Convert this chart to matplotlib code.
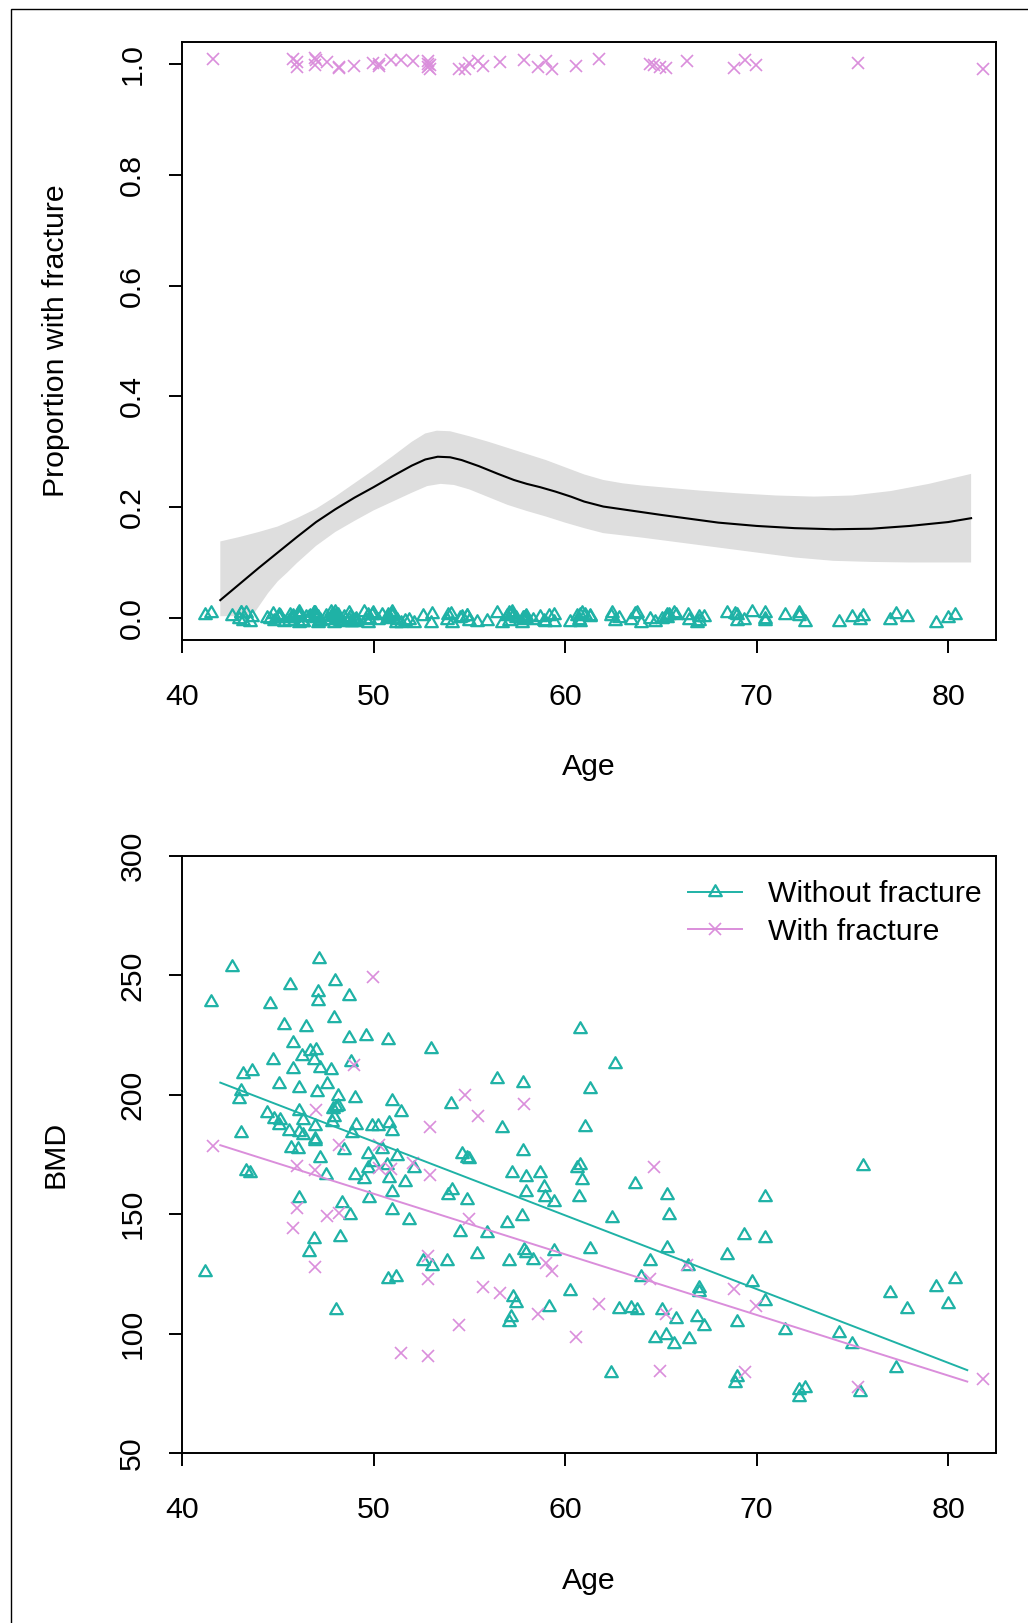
import matplotlib
matplotlib.use("Agg")
from matplotlib import pyplot as plt
from matplotlib.lines import Line2D
from matplotlib.patches import Rectangle
from matplotlib.path import Path

plt.rcParams['font.family'] = ['Liberation Sans', 'DejaVu Sans']

# women without fracture: age, BMD
age_without = [42.61, 47.17, 41.50, 44.59, 45.62, 47.08, 47.08, 47.98, 48.73, 47.93,
               45.34, 46.45, 48.70, 49.60, 50.76, 52.99, 45.81, 44.77, 46.28, 46.66,
               46.99, 46.90, 48.84, 45.77, 47.18, 47.77, 43.18, 43.65, 45.08, 46.12,
               47.06, 47.55, 43.08, 42.96, 48.14, 49.01, 50.97, 51.46, 54.03, 44.44,
               44.78, 45.11, 45.08, 46.09, 46.33, 47.86, 48.03, 48.17, 47.95, 47.83,
               46.96, 45.57, 46.12, 46.30, 46.94, 43.08, 49.08, 49.91, 50.21, 50.82,
               50.96, 48.90, 46.96, 45.69, 46.04, 47.20, 48.47, 49.69, 50.44, 51.22,
               49.98, 50.68, 49.72, 52.12, 54.61, 54.90, 54.99, 43.34, 43.57, 47.51,
               49.04, 49.48, 50.82, 51.65, 50.96, 49.77, 46.12, 48.35, 48.78, 50.96,
               51.86, 53.89, 54.09, 54.90, 54.50, 46.87, 48.26, 46.61, 55.42, 52.56,
               53.04, 53.86, 50.76, 51.16, 41.22, 48.05,
               60.80, 62.59, 56.45, 57.81, 61.32, 56.73, 61.02, 57.79, 57.22, 57.95,
               58.69, 60.76, 60.62, 60.90, 58.89, 57.98, 58.97, 59.44, 60.75, 63.63,
               65.34, 65.42, 57.74, 56.97, 62.45, 55.93, 57.84, 57.98, 58.31, 57.06,
               59.41, 61.28, 65.34, 64.43, 63.96, 66.41, 66.97, 66.99, 68.45, 69.32,
               69.75, 60.28, 57.29, 57.42, 57.18, 57.09, 59.15, 62.83, 63.46, 63.75,
               65.06, 65.81, 66.88, 67.28, 68.97, 64.68, 65.28, 65.68, 66.47, 62.42,
               68.97, 68.88,
               75.58, 70.43, 70.43, 70.42, 71.49, 74.31, 75.00, 77.28, 76.97, 77.86,
               79.39, 80.38, 79.98, 72.22, 72.54, 72.24, 75.42]
bmd_without = [253.5, 256.8, 238.7, 238.1, 245.8, 243.0, 239.3, 247.6, 241.2, 232.3,
               229.4, 228.4, 223.9, 224.5, 222.8, 219.3, 221.8, 214.7, 216.3, 218.4,
               218.9, 214.4, 213.7, 210.8, 211.2, 210.2, 208.9, 210.0, 204.4, 202.7,
               201.3, 204.7, 201.6, 198.4, 199.4, 198.8, 197.4, 193.0, 196.0, 192.4,
               189.9, 189.6, 187.2, 193.2, 189.6, 194.2, 194.9, 195.5, 190.5, 188.6,
               186.8, 184.9, 184.5, 183.1, 181.7, 184.0, 187.5, 187.0, 187.0, 188.2,
               184.9, 183.8, 180.5, 177.9, 177.2, 173.6, 176.8, 175.1, 177.5, 174.5,
               171.9, 170.8, 169.4, 169.4, 175.4, 173.7, 173.2, 167.9, 167.3, 166.3,
               166.3, 164.9, 165.2, 163.5, 159.4, 156.8, 156.8, 154.5, 149.6, 151.7,
               147.5, 158.0, 160.0, 155.9, 142.6, 139.8, 140.5, 134.2, 133.3, 130.3,
               128.4, 130.3, 122.8, 123.8, 125.9, 109.8,
               227.7, 212.8, 206.8, 204.9, 202.3, 186.3, 186.5, 176.5, 167.4, 165.6,
               167.4, 170.8, 169.4, 164.5, 161.4, 159.2, 157.2, 155.2, 157.2, 162.8,
               158.1, 149.7, 149.2, 146.5, 148.3, 142.3, 134.9, 133.8, 131.0, 130.3,
               134.5, 135.6, 135.9, 130.3, 123.5, 128.3, 118.9, 117.5, 132.8, 141.2,
               121.7, 117.9, 115.4, 112.9, 106.8, 104.7, 111.2, 110.1, 110.9, 109.8,
               109.8, 106.1, 106.8, 103.1, 104.7, 98.0, 99.4, 95.6, 97.6, 83.6,
               81.7, 79.4,
               170.1, 157.2, 140.1, 113.7, 101.5, 100.3, 95.5, 85.7, 116.8, 110.3,
               119.6, 122.8, 112.2, 76.4, 77.3, 73.6, 75.4]

# women with fracture: age, BMD
age_with = [49.97, 48.99, 46.99, 54.80, 55.48, 52.94, 41.60, 48.21, 45.98, 46.96,
            50.28, 52.05, 52.94, 50.30, 50.90, 45.98, 47.58, 48.21, 45.77, 46.96,
            52.82, 52.82, 54.96, 54.47, 51.43, 52.85, 55.69, 57.84, 64.66, 59.02,
            59.32, 56.62, 58.57, 61.75, 60.59, 64.45, 65.28, 66.36, 68.80, 69.98,
            64.94, 69.41, 75.27, 81.84]
bmd_with = [249.3, 212.3, 193.5, 199.9, 191.0, 186.5, 178.5, 178.9, 170.0, 168.5,
            179.0, 171.5, 166.5, 169.5, 169.0, 152.8, 149.2, 150.3, 144.3, 127.7,
            132.6, 122.8, 147.9, 103.6, 92.0, 90.6, 119.6, 196.3, 169.8, 129.6,
            126.3, 116.8, 108.0, 112.6, 98.4, 122.8, 108.4, 128.7, 118.6, 111.6,
            84.4, 84.0, 77.5, 80.9]

# jittered 0/1 outcome shown in the top panel
fx_without = [0.003, -0.005, 0.008, -0.002, 0.006, -0.009, 0.001, 0.010, -0.004, 0.004,
              -0.007, 0.002, 0.009, -0.003, 0.005, -0.010, 0.000, 0.007, -0.006, 0.003,
              -0.001, 0.008, -0.008, 0.004, -0.003, 0.011, -0.005, 0.002, 0.006, -0.009,
              0.001, -0.004, 0.009, -0.002, 0.005, -0.007, 0.003, -0.010, 0.007, 0.000,
              -0.006, 0.004, -0.001, 0.010, -0.008, 0.002, 0.006, -0.003, -0.009, 0.005,
              0.008, -0.005, 0.001, -0.007, 0.003, 0.009, -0.002, 0.006, -0.004, 0.000,
              0.011, -0.008, 0.004, -0.001, 0.007, -0.006, 0.002, -0.010, 0.005, -0.003,
              0.009, -0.002, 0.006, -0.009, 0.001, 0.004, -0.005, 0.008, -0.007, 0.003,
              -0.004, 0.010, 0.000, -0.006, 0.007, -0.002, 0.005, -0.008, 0.002, 0.009,
              -0.003, 0.006, -0.010, 0.004, -0.001, 0.008, -0.005, 0.001, -0.007, 0.003,
              0.007, -0.004, 0.002, -0.009, 0.006, 0.000,
              0.005, -0.006, 0.008, -0.001, 0.003, -0.009, 0.006, -0.004, 0.010, -0.002,
              0.001, -0.007, 0.004, 0.009, -0.005, 0.002, -0.008, 0.006, -0.003, 0.007,
              -0.001, 0.005, -0.010, 0.003, 0.008, -0.006, 0.000, 0.004, -0.004, 0.009,
              -0.007, 0.002, 0.006, -0.002, -0.009, 0.005, 0.001, -0.005, 0.008, -0.003,
              0.010, -0.008, 0.003, -0.001, 0.007, -0.006, 0.004, 0.000, -0.004, 0.009,
              -0.002, 0.006, -0.009, 0.002, 0.005, -0.007, 0.001, 0.008, -0.003, 0.004,
              -0.005, 0.007,
              0.003, -0.006, 0.009, -0.002, 0.005, -0.008, 0.001, 0.007, -0.004, 0.002,
              -0.009, 0.006, -0.001, 0.004, -0.007, 0.008, -0.003]
fx_with = [1.002, 0.996, 1.007, 0.992, 1.005, 0.999, 1.009, 0.994, 1.003, 1.011,
           0.997, 1.006, 0.991, 1.001, 1.008, 0.995, 1.004, 0.993, 1.010, 0.998,
           1.005, 0.994, 1.002, 0.991, 1.007, 1.000, 0.996, 1.008, 0.999, 1.006,
           0.992, 1.003, 0.995, 1.009, 0.997, 1.001, 0.993, 1.005, 0.993, 0.998,
           0.994, 1.008, 1.002, 0.992]

# smoothed proportion with fracture
curve_age = [42, 43, 44, 45, 46, 47, 48, 49, 50, 51, 52, 52.7, 53.35, 54, 54.6,
             55.5, 56.5, 57.33, 58, 58.7, 59.5, 60.3, 61, 62, 63, 64, 65, 66.5, 68,
             70, 72, 74, 76, 78, 80, 81.2]
curve_fit = [0.032, 0.061, 0.090, 0.118, 0.146, 0.173, 0.196, 0.217, 0.236, 0.256,
             0.275, 0.286, 0.291, 0.290, 0.285, 0.274, 0.260, 0.249, 0.242, 0.236,
             0.228, 0.219, 0.210, 0.201, 0.196, 0.191, 0.186, 0.179, 0.172, 0.166,
             0.162, 0.160, 0.161, 0.166, 0.173, 0.180]
# its confidence band
hi_age = [42, 43, 44, 45, 46, 47, 48, 49, 50, 51, 52, 52.7, 53.3, 54, 55, 56, 57, 58,
          59, 60, 61, 62, 63, 64, 65, 67, 69, 71, 73, 75, 77, 79, 81.2]
band_hi = [0.138, 0.146, 0.155, 0.165, 0.180, 0.197, 0.219, 0.243, 0.267, 0.292, 0.318,
           0.333, 0.338, 0.337, 0.328, 0.318, 0.307, 0.296, 0.285, 0.272, 0.259, 0.249,
           0.243, 0.239, 0.236, 0.230, 0.225, 0.221, 0.219, 0.221, 0.229, 0.242, 0.260]
lo_age = [42, 43, 43.8, 44.5, 45, 45.5, 46, 47, 48, 49, 50, 51, 52, 52.8, 53.5, 54.2,
          55, 56, 57, 58, 59, 60, 61, 62, 64, 66, 68, 70, 72, 74, 76, 78, 81.2]
band_lo = [0.003, 0.003, 0.010, 0.045, 0.066, 0.082, 0.099, 0.130, 0.155, 0.175, 0.194,
           0.210, 0.226, 0.238, 0.242, 0.240, 0.232, 0.218, 0.204, 0.193, 0.183, 0.172,
           0.162, 0.153, 0.145, 0.136, 0.127, 0.118, 0.109, 0.103, 0.101, 0.100, 0.100]

# regression lines of BMD on age
fit_age = [42, 81]
fit_without = [205.1, 84.7]
fit_with = [178.9, 79.9]

teal = '#1FB2A6'
pink = '#DA8EDB'
fs = 21.8
tri = Path([(0, 1), (-0.866, -0.5), (0.866, -0.5), (0, 1)],
           [Path.MOVETO, Path.LINETO, Path.LINETO, Path.CLOSEPOLY])
tri_ms, tri_mew = 10.5, 1.6
x_ms, x_mew = 8.2, 1.2

fig = plt.figure(figsize=(10.28, 16.23), dpi=100)
fig.patches.append(Rectangle((10.5 / 1028, -0.1), 1.2, 1.1 - 9.3 / 1623,
                             transform=fig.transFigure, fill=False, lw=1.0, ec='black'))

ax1 = fig.add_axes([182 / 1028, 1 - 640 / 1623, 814 / 1028, 598 / 1623])
ax2 = fig.add_axes([182 / 1028, 1 - 1453 / 1623, 814 / 1028, 597 / 1623])

band_x = hi_age + lo_age[::-1]
band_y = band_hi + band_lo[::-1]
ax1.fill(band_x, band_y, color='#DEDEDE', lw=0, zorder=1)
ax1.plot(curve_age, curve_fit, color='black', lw=1.5, zorder=2)
ax1.plot(age_without, fx_without, ls='none', marker=tri, ms=tri_ms, mfc='none',
         mec=teal, mew=tri_mew, zorder=3)
ax1.plot(age_with, fx_with, ls='none', marker='x', ms=x_ms, mec=pink, mew=x_mew, zorder=3)
ax1.set_ylim(-0.04, 1.04)
ax1.set_yticks([0, 0.2, 0.4, 0.6, 0.8, 1.0])
ax1.set_yticklabels(['0.0', '0.2', '0.4', '0.6', '0.8', '1.0'])
ax1.set_ylabel('Proportion with fracture', fontsize=fs)

ax2.plot(age_without, bmd_without, ls='none', marker=tri, ms=tri_ms, mfc='none',
         mec=teal, mew=tri_mew)
ax2.plot(age_with, bmd_with, ls='none', marker='x', ms=x_ms, mec=pink, mew=x_mew)
ax2.plot(fit_age, fit_without, color=teal, lw=1.4)
ax2.plot(fit_age, fit_with, color=pink, lw=1.4)
ax2.set_ylim(50, 300)
ax2.set_yticks([50, 100, 150, 200, 250, 300])
ax2.set_ylabel('BMD', fontsize=fs)

handles = [Line2D([], [], color=teal, lw=1.4, marker=tri, ms=tri_ms, mfc='none', mew=tri_mew),
           Line2D([], [], color=pink, lw=1.4, marker='x', ms=x_ms, mew=x_mew)]
ax2.legend(handles, ['Without fracture', 'With fracture'], loc='upper left',
           bbox_to_anchor=(0.6216, 0.959), frameon=False, fontsize=fs, borderpad=0,
           borderaxespad=0, handlelength=1.8, handletextpad=0.85, labelspacing=0.3,
           numpoints=1)

for ax, ylab_y in [(ax1, -0.2124), (ax2, -0.2144)]:
    ax.set_xlim(40, 82.5)
    ax.set_xticks([40, 50, 60, 70, 80])
    ax.set_xlabel('Age', fontsize=fs)
    ax.xaxis.set_label_coords(0.5, ylab_y)
    ax.xaxis.label.set_va('center')
    ax.yaxis.set_label_coords(-0.1548, 0.5)
    ax.yaxis.label.set_va('center')
    for s in ax.spines.values():
        s.set_linewidth(1.4)
    ax.tick_params(axis='both', length=9.7, width=1.4, labelsize=fs, direction='out')
    ax.tick_params(axis='x', pad=21)
    ax.tick_params(axis='y', pad=16, labelrotation=90)
    for lab in ax.get_yticklabels():
        lab.set_va('center')

fig.savefig('out.png', dpi=100)
